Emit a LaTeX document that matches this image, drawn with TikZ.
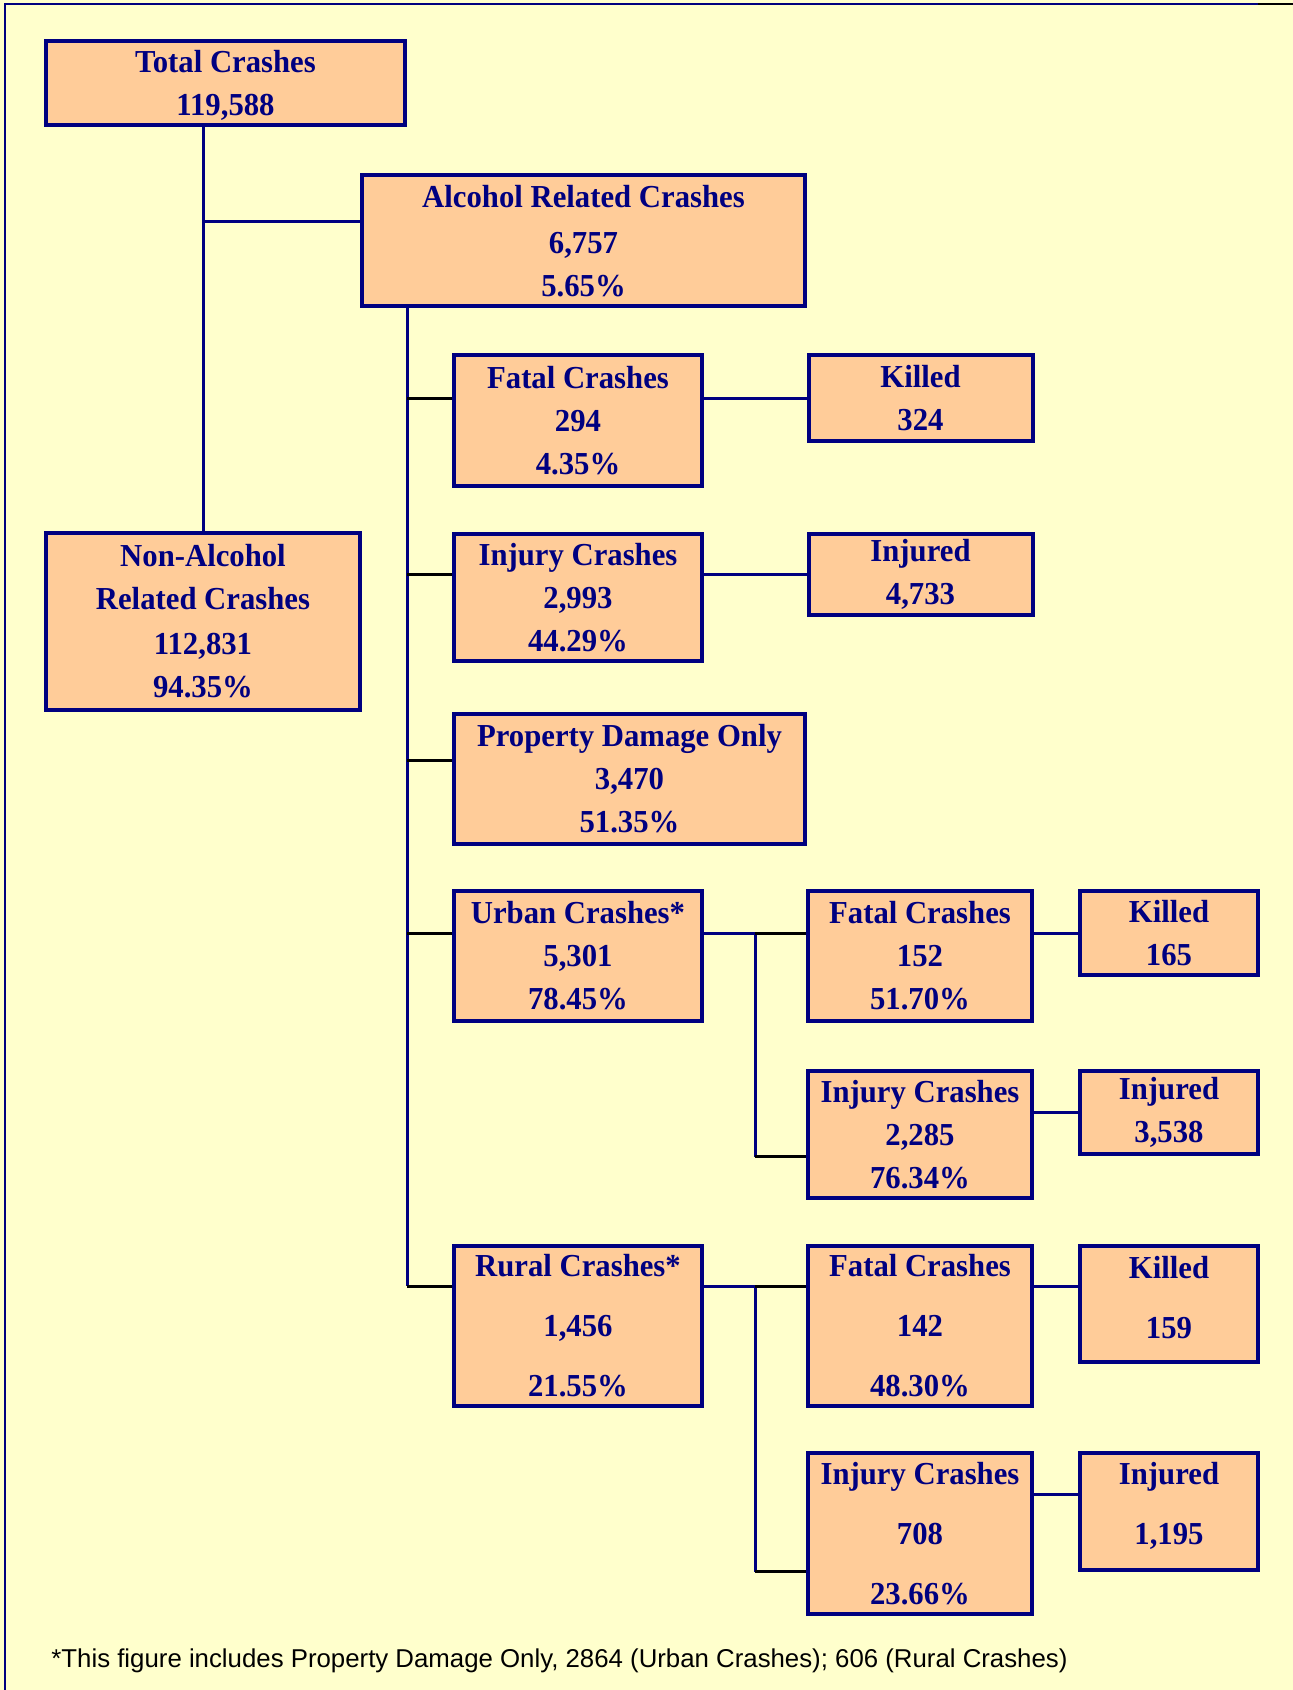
\documentclass[tikz,border=0pt]{standalone}
\usepackage{fontspec}
\setmainfont[BoldFeatures={FakeStretch=0.96}]{Liberation Serif}
\newfontfamily\notesans{Liberation Sans}
\usetikzlibrary{calc}
\definecolor{navy}{RGB}{0,0,128}
\definecolor{peach}{RGB}{255,204,153}
\definecolor{cream}{RGB}{255,255,204}
\tikzset{
	crash/.style={draw=navy, line width=2pt, fill=peach, text=navy, align=center, inner sep=0pt, font=\bfseries\fontsize{16}{21.5}\selectfont},
	lifted/.style={text depth=#1},
	navyline/.style={draw=navy, line width=1.5pt},
	blackline/.style={draw=black, line width=1.5pt},
}

\begin{document}
\begin{tikzpicture}[x=0.5pt, y=-0.5pt]
			%%%%% START %%%%%
			\useasboundingbox (0,0) rectangle (1293,1690);
			\fill[cream] (0,0) rectangle (1293,1690);
			\draw[navy, line width=1.25pt] (5,1690) -- (5,4) -- (1258,4);
			\draw[black, line width=1.25pt] (1258,4) -- (1293,4);
			
			% totals
			\node[crash, lifted=0pt, minimum width=179.5pt, minimum height=42pt] (total) at (225.5,83) {Total Crashes\\119,588};
			\node[crash, lifted=0pt, minimum width=221.5pt, minimum height=65.5pt] (alcohol) at (583.5,240.5) {Alcohol Related Crashes\\[1.5pt]6,757\\5.65\%};
			\node[crash, minimum width=157pt, minimum height=88.5pt] (nonalc) at (203,621.5) {Non-Alcohol\\Related Crashes\\[1pt]112,831\\94.35\%};
			
			% alcohol related
			\node[crash, minimum width=124pt, minimum height=65.5pt] (fatal) at (578,420.5) {Fatal Crashes\\294\\4.35\%};
			\node[crash, minimum width=112pt, minimum height=43pt] (killed) at (920.5,398) {Killed\\324};
			\node[crash, minimum width=124pt, minimum height=63.5pt] (injury) at (578,597.5) {Injury Crashes\\2,993\\44.29\%};
			\node[crash, minimum width=112pt, minimum height=40.5pt] (injured) at (920.5,574.5) {Injured\\4,733};
			\node[crash, minimum width=175.5pt, minimum height=65pt] (pdo) at (629.5,779) {Property Damage Only\\3,470\\51.35\%};
			
			% urban
			\node[crash, minimum width=124pt, minimum height=65pt] (urban) at (578,956) {Urban Crashes*\\5,301\\78.45\%};
			\node[crash, minimum width=112pt, minimum height=65pt] (ufatal) at (920,956) {Fatal Crashes\\152\\51.70\%};
			\node[crash, minimum width=89pt, minimum height=42pt] (ukilled) at (1169,933) {Killed\\165};
			\node[crash, minimum width=112pt, minimum height=63.5pt] (uinjury) at (920,1134.5) {Injury Crashes\\2,285\\76.34\%};
			\node[crash, minimum width=89pt, minimum height=41.5pt] (uinjured) at (1169,1112.5) {Injured\\3,538};
			
			% rural
			\node[crash, minimum width=124pt, minimum height=80pt] (rural) at (578,1326) {Rural Crashes*\\[8.5pt]1,456\\[8.5pt]21.55\%};
			\node[crash, minimum width=112pt, minimum height=80pt] (rfatal) at (920,1326) {Fatal Crashes\\[8.5pt]142\\[8.5pt]48.30\%};
			\node[crash, lifted=6.5pt, minimum width=89pt, minimum height=58pt] (rkilled) at (1169,1304) {Killed\\[8.5pt]159};
			\node[crash, lifted=8pt, minimum width=89pt, minimum height=58.5pt] (rinjured) at (1169,1511.5) {Injured\\[8.5pt]1,195};
			\node[crash, minimum width=112pt, minimum height=80.5pt] (rinjury) at (920,1533.5) {Injury Crashes\\[8.5pt]708\\[8.5pt]23.66\%};
			
			% joints
			\coordinate (alcjoin) at ([yshift=9.25pt]alcohol.west);
			\coordinate (abus) at (407,306);
			\coordinate (pdolevel) at ([yshift=9.5pt]pdo.west);
			\coordinate (rlevel) at ([yshift=20pt]rural.west);
			\coordinate (ubus) at (755,933);
			\coordinate (ustub) at ([yshift=-11pt]uinjury.west);
			\coordinate (rbus) at (755,1286);
			\coordinate (rstub) at ([yshift=-19pt]rinjury.west);
			\coordinate (rinjlevel) at ([yshift=19.75pt]rinjury.east);
			
			\draw[navyline] (total.south -| nonalc.north) -- (nonalc.north);
			\draw[navyline] (alcjoin -| nonalc.north) -- (alcjoin);
			\draw[navyline] (abus) -- (abus |- rlevel);
			
			\draw[blackline] (abus |- killed.west) -- (fatal.west |- killed.west);
			\draw[blackline] (abus |- injured.west) -- (injury.west |- injured.west);
			\draw[blackline] (abus |- pdolevel) -- (pdolevel);
			\draw[blackline] (abus |- ukilled.west) -- (urban.west |- ukilled.west);
			\draw[blackline] (abus |- rlevel) -- (rlevel);
			
			\draw[navyline] (fatal.east |- killed.west) -- (killed.west);
			\draw[navyline] (injury.east |- injured.west) -- (injured.west);
			\draw[navyline] (ufatal.east |- ukilled.west) -- (ukilled.west);
			\draw[navyline] (uinjury.east |- uinjured.west) -- (uinjured.west);
			\draw[navyline] (rfatal.east |- rlevel) -- (rlevel -| rkilled.west);
			\draw[navyline] (rinjlevel) -- (rinjlevel -| rinjured.west);
			
			\draw[navyline] (urban.east |- ubus) -- (ubus) -- (ubus |- ustub);
			\draw[blackline] (ubus) -- (ubus -| ufatal.west);
			\draw[blackline] (ubus |- ustub) -- (ustub);
			\draw[navyline] (rural.east |- rbus) -- (rbus) -- (rbus |- rstub);
			\draw[blackline] (rbus) -- (rbus -| rfatal.west);
			\draw[blackline] (rbus |- rstub) -- (rstub);
			
			\node[anchor=base west, inner sep=0pt, font=\notesans\fontsize{12.9}{15}\selectfont] (footnote) at (51,1667) {*This figure includes Property Damage Only, 2864 (Urban Crashes); 606 (Rural Crashes)};
			%%%%% END %%%%%
\end{tikzpicture}
\end{document}
